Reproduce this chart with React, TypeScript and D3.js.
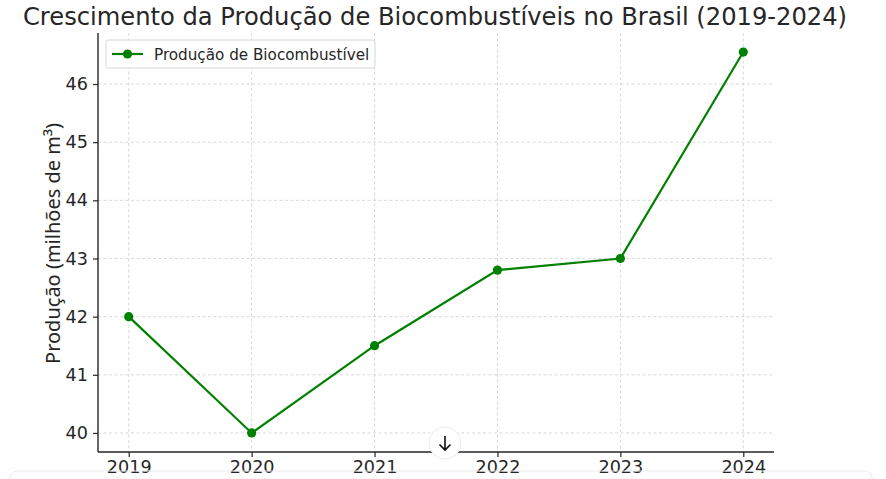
import { useEffect, useRef } from "react";
import * as d3 from "d3";

const years = [2019, 2020, 2021, 2022, 2023, 2024];
const production = [42, 40, 41.5, 42.8, 43, 46.55];
const yTicks = [40, 41, 42, 43, 44, 45, 46];

const W = 886;
const H = 479;

export default function App() {
  const ref = useRef<SVGSVGElement | null>(null);

  useEffect(() => {
    const svg = d3.select(ref.current);
    svg.selectAll("*").remove();

    const left = 98, right = 774, top = 33, bottom = 452;

    // matplotlib-style 5% margins
    const x = d3.scaleLinear().domain([2018.75, 2024.25]).range([left, right]);
    const yMin = 40, yMax = 46.55, pad = (yMax - yMin) * 0.05;
    const y = d3.scaleLinear().domain([yMin - pad, yMax + pad]).range([bottom, top]);

    svg.append("rect").attr("width", W).attr("height", H).attr("fill", "#fff");

    // grid
    const grid = svg.append("g").attr("stroke", "#cfcfcf").attr("stroke-width", 0.8).attr("stroke-dasharray", "3,2.5");
    years.forEach((yr) => {
      grid.append("line").attr("x1", x(yr)).attr("x2", x(yr)).attr("y1", top).attr("y2", bottom);
    });
    yTicks.forEach((t) => {
      grid.append("line").attr("x1", left).attr("x2", right).attr("y1", y(t)).attr("y2", y(t));
    });

    // axes
    const xAxis = svg.append("g")
      .attr("transform", `translate(0,${bottom})`)
      .call(d3.axisBottom(x).tickValues(years).tickFormat(d3.format("d")).tickSize(5).tickPadding(4));
    const yAxis = svg.append("g")
      .attr("transform", `translate(${left},0)`)
      .call(d3.axisLeft(y).tickValues(yTicks).tickSize(5).tickPadding(5));
    [xAxis, yAxis].forEach((a) => {
      a.select(".domain").attr("stroke", "#262626").attr("stroke-width", 1.4);
      a.selectAll(".tick line").attr("stroke", "#262626").attr("stroke-width", 1.2);
      a.selectAll("text")
        .attr("font-family", "DejaVu Sans")
        .attr("font-size", 17.6)
        .attr("fill", "#262626");
    });
    xAxis.select(".domain").attr("d", `M${left},0H${right}`);
    yAxis.select(".domain").attr("d", `M0,${bottom}V${top}`);

    // line
    const data = years.map((yr, i) => ({ yr, v: production[i] }));
    const line = d3.line<{ yr: number; v: number }>().x((d) => x(d.yr)).y((d) => y(d.v));
    svg.append("path")
      .datum(data)
      .attr("d", line)
      .attr("fill", "none")
      .attr("stroke", "#008000")
      .attr("stroke-width", 2.2);
    svg.selectAll(".pt")
      .data(data)
      .enter()
      .append("circle")
      .attr("cx", (d) => x(d.yr))
      .attr("cy", (d) => y(d.v))
      .attr("r", 4.6)
      .attr("fill", "#008000");

    // legend
    const lg = svg.append("g");
    lg.append("rect")
      .attr("x", 106).attr("y", 40).attr("width", 269).attr("height", 28).attr("rx", 2)
      .attr("fill", "#fff").attr("fill-opacity", 0.8).attr("stroke", "#d6d6d6");
    lg.append("line").attr("x1", 112).attr("x2", 143).attr("y1", 54).attr("y2", 54)
      .attr("stroke", "#008000").attr("stroke-width", 2.2);
    lg.append("circle").attr("cx", 127.5).attr("cy", 54).attr("r", 4.6).attr("fill", "#008000");
    lg.append("text").attr("x", 154).attr("y", 59.5)
      .attr("font-family", "DejaVu Sans").attr("font-size", 15.2).attr("fill", "#262626")
      .text("Produção de Biocombustível");

    // title
    svg.append("text")
      .attr("x", 435).attr("y", 25)
      .attr("text-anchor", "middle")
      .attr("font-family", "DejaVu Sans").attr("font-size", 24.2).attr("fill", "#262626")
      .text("Crescimento da Produção de Biocombustíveis no Brasil (2019-2024)");

    // y label
    svg.append("text")
      .attr("transform", `translate(60,${(top + bottom) / 2 + 1}) rotate(-90)`)
      .attr("text-anchor", "middle")
      .attr("font-family", "Noto Sans").attr("font-size", 20).attr("fill", "#262626")
      .text("Produção (milhões de m³)");

    // page overlay: scroll button and panel edge
    svg.append("path")
      .attr("d", `M10,479 V477 Q10,471 20,471 H862 Q872,471 872,477 V479`)
      .attr("fill", "none").attr("stroke", "#ececec").attr("stroke-width", 1.2);
    svg.append("circle").attr("cx", 445).attr("cy", 443).attr("r", 16)
      .attr("fill", "#fff").attr("stroke", "#ececec").attr("stroke-width", 1);
    svg.append("path")
      .attr("d", "M445,436 V450 M439.5,444.5 L445,450 L450.5,444.5")
      .attr("fill", "none").attr("stroke", "#111").attr("stroke-width", 1.6);
  }, []);

  return (
    <svg
      ref={ref}
      width={W}
      height={H}
      style={{ position: "absolute", left: 0, top: 0 }}
    />
  );
}
